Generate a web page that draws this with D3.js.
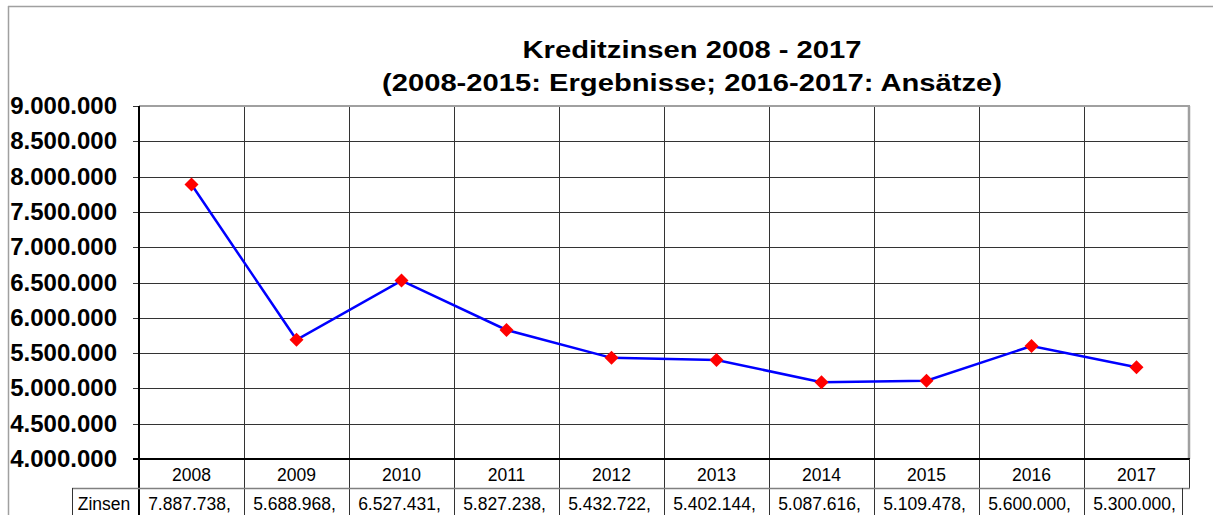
<!DOCTYPE html>
<html><head><meta charset="utf-8">
<script src="https://cdn.jsdelivr.net/npm/d3@7"></script>
<style>body{margin:0;background:#fff}svg{display:block;font-family:"Liberation Sans",Arial,sans-serif}</style>
</head><body><svg id="c" width="1213" height="515"></svg>
<script>
const years = ["2008","2009","2010","2011","2012","2013","2014","2015","2016","2017"];
const zinsen = [7887738, 5688968, 6527431, 5827238, 5432722, 5402144, 5087616, 5109478, 5600000, 5300000];
const zinsenLabels = ["7.887.738,","5.688.968,","6.527.431,","5.827.238,","5.432.722,","5.402.144,","5.087.616,","5.109.478,","5.600.000,","5.300.000,"];
const yTicks = [4000000,4500000,5000000,5500000,6000000,6500000,7000000,7500000,8000000,8500000,9000000];
const titleLines = ["Kreditzinsen 2008 - 2017","(2008-2015: Ergebnisse; 2016-2017: Ansätze)"];
const seriesName = "Zinsen";

const svg = d3.select("#c");
const L = 139, R = 1189, T = 106, B = 459;
const x = d3.scaleBand().domain(years).range([L, R]);
const y = d3.scaleLinear().domain([4000000, 9000000]).range([B, T]);
const fmt = v => d3.format(",")(v).replace(/,/g, ".");

// outer frame
svg.append("line").attr("x1",8).attr("x2",1213).attr("y1",6.5).attr("y2",6.5).attr("stroke","#a0a0a0").attr("stroke-width",1.5);
svg.append("line").attr("x1",8.5).attr("x2",8.5).attr("y1",6).attr("y2",515).attr("stroke","#a0a0a0").attr("stroke-width",1.5);

// title
const titleWidths = [339, 620];
svg.append("g").selectAll("text").data(titleLines).join("text")
  .attr("x", 692).attr("y", (d,i)=>57.5+i*33).attr("text-anchor","middle")
  .attr("font-size", 23.5).attr("font-weight","bold").attr("fill","#000")
  .attr("textLength",(d,i)=>titleWidths[i]).attr("lengthAdjust","spacingAndGlyphs").text(d=>d);

// horizontal grid
svg.append("g").selectAll("line").data(yTicks).join("line")
  .attr("x1", L-6).attr("x2", R).attr("y1", d=>Math.round(y(d))+0.5).attr("y2", d=>Math.round(y(d))+0.5)
  .attr("stroke","#333").attr("stroke-width",1);

// vertical grid (category boundaries), extending through table
const bounds = years.slice(1).map(d=>x(d));
svg.append("g").selectAll("line").data(bounds).join("line")
  .attr("x1", d=>Math.round(d)+0.5).attr("x2", d=>Math.round(d)+0.5).attr("y1", T).attr("y2", 515)
  .attr("stroke","#333").attr("stroke-width",1);

// plot border top/right gray
svg.append("line").attr("x1",L).attr("x2",R+1).attr("y1",T).attr("y2",T).attr("stroke","#a0a0a0").attr("stroke-width",2);
svg.append("line").attr("x1",R).attr("x2",R).attr("y1",T).attr("y2",B).attr("stroke","#a0a0a0").attr("stroke-width",2.5);

// y axis labels
svg.append("g").selectAll("text").data(yTicks).join("text")
  .attr("x", 117).attr("y", d=>y(d)+8).attr("text-anchor","end")
  .attr("font-size", 24).attr("font-weight","bold").attr("fill","#000").text(d=>fmt(d));

// table
svg.append("line").attr("x1",L).attr("x2",L).attr("y1",T).attr("y2",515).attr("stroke","#000").attr("stroke-width",2);
svg.append("line").attr("x1",L-6).attr("x2",R+1).attr("y1",B).attr("y2",B).attr("stroke","#000").attr("stroke-width",2);
svg.append("line").attr("x1",R+0.5).attr("x2",R+0.5).attr("y1",B).attr("y2",488).attr("stroke","#333").attr("stroke-width",1);
svg.append("line").attr("x1",72).attr("x2",R+1).attr("y1",488.5).attr("y2",488.5).attr("stroke","#808080").attr("stroke-width",1.5);
svg.append("line").attr("x1",72.5).attr("x2",72.5).attr("y1",488).attr("y2",515).attr("stroke","#333").attr("stroke-width",1);
svg.append("line").attr("x1",1182.5).attr("x2",1182.5).attr("y1",488).attr("y2",515).attr("stroke","#333").attr("stroke-width",1);

svg.append("g").selectAll("text").data(years).join("text")
  .attr("x", d=>x(d)+x.bandwidth()/2).attr("y", 481).attr("text-anchor","middle")
  .attr("font-size", 17.5).attr("fill","#000").text(d=>d);
svg.append("text").attr("x",104).attr("y",510).attr("text-anchor","middle").attr("font-size",17.5).text(seriesName);
svg.append("g").selectAll("text").data(zinsenLabels).join("text")
  .attr("x", (d,i)=>x(years[i])+x.bandwidth()/2-2).attr("y", 510).attr("text-anchor","middle")
  .attr("font-size", 17.5).attr("fill","#000").text(d=>d);

// line
const line = d3.line().x((d,i)=>x(years[i])+x.bandwidth()/2).y(d=>y(d));
svg.append("path").datum(zinsen).attr("d", line).attr("fill","none").attr("stroke","#0000ff").attr("stroke-width",2.5);

// markers
svg.append("g").selectAll("path").data(zinsen).join("path")
  .attr("transform",(d,i)=>`translate(${x(years[i])+x.bandwidth()/2},${y(d)})`)
  .attr("d","M0,-7L7,0L0,7L-7,0Z").attr("fill","#ff0000");
</script></body></html>
